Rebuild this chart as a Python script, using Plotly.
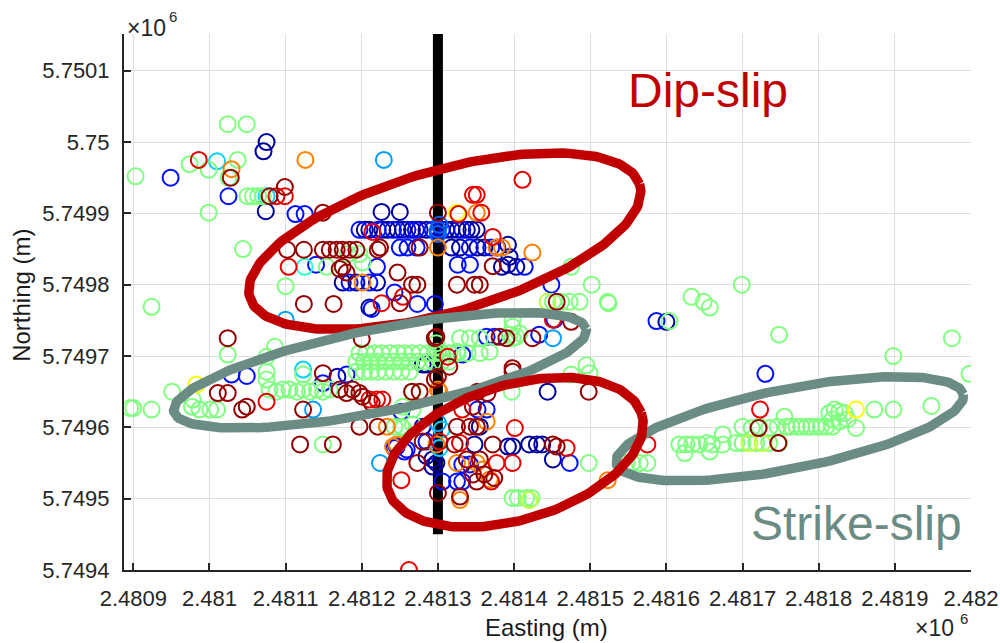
import numpy as np
import plotly.graph_objects as go

# Local grid origin (UTM metres); event positions are stored as offsets from it
E0 = 2480000
N0 = 5749000

# Event positions grouped by relative origin time (0 = earliest, 1 = latest)
dark_blue_e = [1075, 1071, 1074, 1226, 1250, 1204, 1210, 1227, 1234, 1247, 1254, 1266, 1276, 1285,
               1311, 1318, 1326, 1338, 1344, 1351, 1318, 1329, 1352, 1361, 1378, 1392, 1384, 1392,
               1403, 1394, 1175, 1193, 1220, 1210, 1168, 1280, 1285, 1280, 1293, 1444, 1355, 1348,
               1392, 1398, 1420, 1430, 1437, 1298, 1451, 1600, 1285, 1293]
dark_blue_n = [1000, 987, 903, 902, 902, 877, 877, 877, 877, 877, 877, 877, 877, 877,
               877, 877, 877, 877, 877, 877, 852, 852, 852, 852, 852, 856, 825, 828,
               825, 839, 803, 803, 803, 768, 671, 688, 688, 601, 555, 650, 601, 576,
               573, 573, 576, 576, 576, 550, 555, 748, 560, 545]

blue_e = [949, 1025, 1113, 1125, 1140, 1220, 1197, 1221, 1241, 1260, 1271, 1293, 1305, 1332,
          1250, 1260, 1272, 1342, 1370, 1326, 1342, 1414, 1184, 1210, 1213, 1243, 1273, 1296,
          1449, 1453, 1029, 1049, 1149, 1180, 1252, 1246, 1259, 1364, 1374, 1433, 1332, 1352,
          1364, 1285, 1243, 1256, 1332, 1342, 1473, 1306, 1325, 1332, 1587, 1730]
blue_n = [950, 924, 899, 899, 828, 825, 877, 877, 877, 877, 877, 877, 877, 877,
          852, 852, 852, 852, 852, 828, 828, 825, 803, 803, 766, 789, 773, 773,
          800, 751, 674, 672, 662, 674, 622, 573, 569, 727, 727, 730, 702, 625,
          625, 580, 571, 566, 548, 548, 550, 524, 524, 524, 749, 675]

azure_e = [1300, 1302, 1300]
azure_n = [877, 884, 871]

sky_e = [1229, 1100, 1136, 1224, 1300, 1451]
sky_n = [975, 751, 625, 550, 606, 725]

cyan_e = [1010, 1075, 1123, 1305, 1302]
cyan_n = [973, 924, 681, 597, 571]

aqua_e = [1125]
aqua_n = [825]

green_e = [1024, 1049, 903, 974, 999, 1037, 1025, 999, 1050, 1057, 1064, 1070,
           1044, 924, 1154, 1100, 1182, 1197, 1201, 1475, 1502, 1523, 1451, 1462, 1473, 1486,
           1086, 1024, 1075, 1075, 1075, 1123,
           1197, 1206, 1217, 1226, 1237, 1247, 1256, 1266, 1276, 1287, 1296, 1305, 1315, 1326,
           1193, 1203, 1212, 1221, 1231, 1242, 1252, 1263, 1273, 1284, 1294, 1305, 1315,
           1193, 1203, 1212, 1221, 1231, 1242, 1252, 1263,
           951, 978, 977, 987, 1001, 1010,
           1079, 1088, 1096, 1105, 1115, 1123, 1132, 1141, 1149, 1158,
           1254, 1267, 1149, 1243, 1252, 896, 900, 924, 1298, 1300,
           1329, 1342, 1355, 1394, 1398, 1403, 1407, 1398, 1398,
           1325, 1339, 1355, 1368, 1267, 1397, 1475, 1254, 1267,
           1398, 1405, 1416, 1423, 1495, 1499, 1498,
           1699, 1524, 1633, 1649, 1657, 1604, 1748, 1975, 1898, 1998, 1948, 1755, 1873, 1898,
           1814, 1821, 1827, 1834, 1818, 1827, 1838, 1849,
           1758, 1764, 1771, 1777, 1784, 1790, 1797, 1803, 1810, 1818,
           1700, 1712, 1722, 1735, 1746,
           1692, 1700, 1718, 1735, 1748, 1674, 1674,
           1617, 1626, 1634, 1643, 1653, 1660, 1624, 1657,
           1548, 1555, 1565, 1575]
green_n = [1025, 1025, 952, 969, 961, 975, 950, 901, 924, 924, 924, 924,
           850, 769, 825, 798, 843, 843, 831, 825, 800, 776, 776, 776, 776, 776,
           713, 702, 699, 678, 667, 674,
           704, 704, 704, 704, 704, 704, 704, 704, 704, 704, 704, 704, 704, 704,
           692, 692, 692, 692, 692, 692, 692, 692, 692, 692, 692, 692, 692,
           678, 678, 678, 678, 678, 678, 678, 678,
           650, 639, 629, 625, 625, 625,
           653, 650, 653, 653, 650, 653, 650, 653, 650, 653,
           629, 625, 576, 601, 601, 627, 627, 625, 718, 706,
           725, 725, 725, 730, 725, 727, 732, 741, 751,
           706, 704, 704, 706, 650, 650, 674, 599, 604,
           501, 501, 501, 501, 687, 676, 550,
           800, 774, 783, 776, 768, 749, 730, 725, 700, 675, 630, 615, 625, 625,
           620, 625, 622, 620, 611, 608, 611, 599,
           601, 601, 601, 601, 601, 601, 601, 601, 601, 601,
           601, 599, 601, 599, 601,
           578, 578, 578, 578, 578, 590, 576,
           576, 576, 576, 576, 578, 576, 564, 566,
           550, 550, 550, 550]

lime_e = [1444, 1709, 1726, 1420]
lime_n = [776, 578, 578, 498]

yellow_e = [1325, 983, 1849]
yellow_n = [901, 660, 625]

orange_e = [1126, 1029, 1201, 1300, 1377, 1384, 1424, 1351, 1300, 1233, 1241, 1302, 1364,
            1298, 1246, 1325, 1351, 1359, 1368, 1329, 1523]
orange_n = [975, 962, 803, 852, 852, 852, 845, 901, 653, 601, 573, 650, 608,
            576, 576, 550, 550, 541, 527, 498, 526]

red_e = [986, 1088, 1099, 1104, 1214, 1226, 1254, 1327, 1357, 1346, 1351, 1411, 1451, 1075,
         1210, 1220, 1227, 1313, 1332, 1401, 1302, 1329, 1469, 1377, 1398, 1370, 1252, 1262,
         1723, 1575, 1372]
red_n = [975, 924, 924, 825, 874, 774, 783, 899, 901, 926, 926, 947, 751, 636,
         639, 639, 639, 699, 625, 599, 580, 578, 571, 550, 550, 524, 526, 400,
         625, 576, 867]

dark_red_e = [1028, 1079, 1099, 1149, 1124, 1163,
              1102, 1124, 1149, 1158, 1167, 1175, 1184, 1193, 1221,
              1175, 1180, 1171, 1247, 1266, 1273, 1250,
              1300, 1224, 1276, 1372, 1325, 1348, 1355, 1456, 1475,
              1024, 1200, 1149, 1296, 1296, 1315,
              1011, 1024, 1043, 1171, 1180, 1188, 1197, 1201, 1213, 1123, 1119, 1162, 1197, 1221,
              1298, 1381, 1390, 1424, 1398, 1300, 1398, 1276, 1266, 1352, 1365, 1346, 1325, 1342,
              1351, 1280, 1322, 1372, 1451, 1456, 1273, 1338, 1355, 1361, 1346, 1351, 1374, 1300,
              1329, 1498, 1721, 1747, 1049]
dark_red_n = [950, 924, 937, 901, 773, 773,
              849, 849, 849, 849, 849, 849, 849, 849, 849,
              825, 817, 822, 817, 800, 800, 774,
              901, 852, 852, 826, 800, 800, 800, 776, 748,
              725, 724, 676, 725, 667, 685,
              648, 648, 625, 653, 648, 653, 648, 643, 634, 625, 576, 576, 601, 601,
              727, 727, 725, 725, 683, 671, 678, 650, 650, 650, 648, 629, 601, 601,
              601, 580, 576, 576, 576, 573, 550, 555, 555, 534, 534, 524, 529, 508,
              503, 650, 599, 578, 629]

groups = [
    (dark_blue_e, dark_blue_n, 0.03),
    (blue_e, blue_n, 0.14),
    (azure_e, azure_n, 0.22),
    (sky_e, sky_n, 0.28),
    (cyan_e, cyan_n, 0.33),
    (aqua_e, aqua_n, 0.42),
    (green_e, green_n, 0.50),
    (lime_e, lime_n, 0.56),
    (yellow_e, yellow_n, 0.62),
    (orange_e, orange_n, 0.75),
    (red_e, red_n, 0.90),
    (dark_red_e, dark_red_n, 0.98),
]

# MATLAB-style jet colormap
jet = [[0.0, "rgb(0,0,128)"], [0.125, "rgb(0,0,255)"], [0.375, "rgb(0,255,255)"],
       [0.5, "rgb(128,255,128)"], [0.625, "rgb(255,255,0)"], [0.875, "rgb(255,0,0)"],
       [1.0, "rgb(128,0,0)"]]

# Well trajectory (vertical) and interpreted zones
well_e = 1300
well_n = [450, 1151.5]
# (centre E, centre N, semi-major m, semi-minor m, azimuth deg, colour)
zones = [
    (1309, 861, 268, 99, 17.4, "#C00000"),
    (1224, 680, 277, 58, 12.1, "#6A8C84"),
    (1762, 598, 233, 56, 12.0, "#6A8C84"),
    (1401, 565, 175, 94, 18.5, "#C00000"),
]

fig = go.Figure()

fig.add_trace(go.Scatter(
    x=[E0 + well_e, E0 + well_e], y=[N0 + v for v in well_n],
    mode="lines", line=dict(color="black", width=10), hoverinfo="skip", showlegend=False))

xs, ys, cs = [], [], []
for ge, gn, t in groups:
    xs += [E0 + v for v in ge]
    ys += [N0 + v for v in gn]
    cs += [t] * len(ge)

fig.add_trace(go.Scatter(
    x=xs, y=ys, mode="markers", showlegend=False,
    marker=dict(symbol="circle-open", size=16, color=cs, colorscale=jet, cmin=0, cmax=1,
                line=dict(width=2))))

t = np.linspace(0, 2 * np.pi, 241)
for ce, cn, a, b, ang, col in zones:
    th = np.deg2rad(ang)
    ex = ce + a * np.cos(t) * np.cos(th) - b * np.sin(t) * np.sin(th)
    ey = cn + a * np.cos(t) * np.sin(th) + b * np.sin(t) * np.cos(th)
    fig.add_trace(go.Scatter(x=E0 + ex, y=N0 + ey, mode="lines", showlegend=False,
                             line=dict(color=col, width=9.5), hoverinfo="skip"))

x_ticks = list(range(900, 2001, 100))
y_ticks = list(range(400, 1101, 100))
x_tick_text = ["2.4809", "2.481", "2.4811", "2.4812", "2.4813", "2.4814", "2.4815",
               "2.4816", "2.4817", "2.4818", "2.4819", "2.482"]
y_tick_text = ["5.7494", "5.7495", "5.7496", "5.7497", "5.7498", "5.7499", "5.75", "5.7501"]

FONT = "Liberation Sans, Arial, sans-serif"
common = dict(showgrid=True, gridcolor="#DEDEDE", gridwidth=1, zeroline=False,
              showline=True, linecolor="#262626", linewidth=2, mirror=False,
              ticks="inside", ticklen=7, tickwidth=1.5, tickcolor="#262626",
              tickfont=dict(family=FONT, size=22, color="#262626"), automargin=False)

fig.update_xaxes(range=[E0 + 887.8, E0 + 2000], tickvals=[E0 + v for v in x_ticks],
                 ticktext=x_tick_text, ticklabelstandoff=8, **common)
fig.update_yaxes(range=[N0 + 400, N0 + 1151.5], tickvals=[N0 + v for v in y_ticks],
                 ticktext=y_tick_text, ticklabelstandoff=8, **common)


def note(text, x, y, xanchor, size, color, angle=0):
    return dict(text=text, x=x, y=y, xref="paper", yref="paper", xanchor=xanchor,
                yanchor="middle", showarrow=False, textangle=angle,
                font=dict(family=FONT, size=size, color=color))


fig.update_layout(
    width=1000, height=643, plot_bgcolor="white", paper_bgcolor="white",
    margin=dict(l=124, r=29, t=34, b=73, autoexpand=False),
    annotations=[
        note("Easting (m)", 0.4994, -0.107, "center", 24, "#1A1A1A"),
        note("Northing (m)", -0.1204, 0.5115, "center", 24, "#1A1A1A", angle=-90),
        # axis multipliers (x10^6)
        note("×10", 0.0012, 1.012, "left", 23, "#262626"),
        note("6", 0.0506, 1.0325, "left", 15, "#262626"),
        note("×10", 0.9827, -0.109, "right", 23, "#262626"),
        note("6", 0.9988, -0.090, "right", 15, "#262626"),
        note("Dip-slip", 0.689, 0.8947, "center", 48, "#C00000"),
        note("Strike-slip", 0.8654, 0.0863, "center", 48, "#6A8C84"),
    ],
)

fig.write_html("out.html")
